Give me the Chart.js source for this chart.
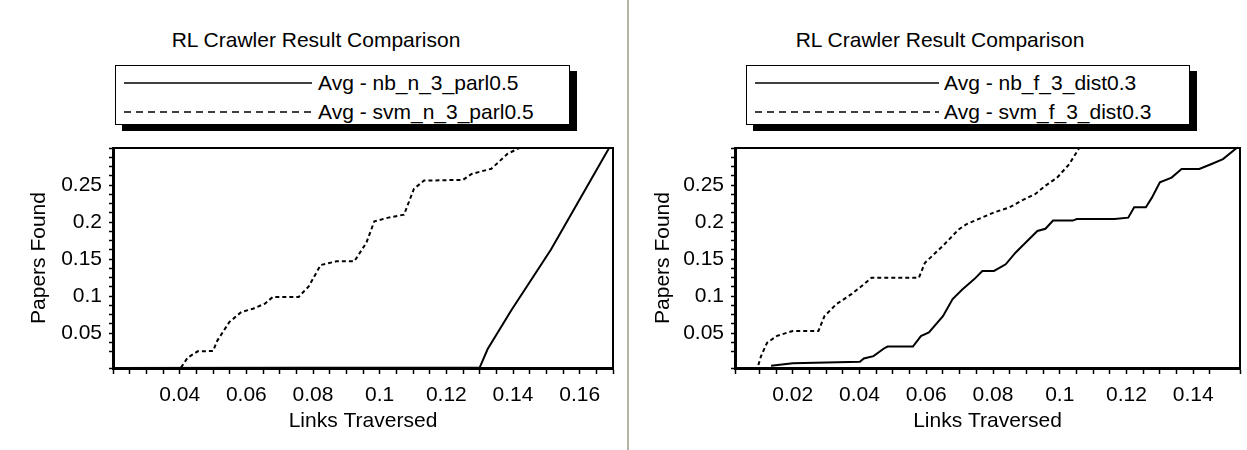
<!DOCTYPE html>
<html>
<head>
<meta charset="utf-8">
<script src="https://cdn.jsdelivr.net/npm/chart.js@4.4.1/dist/chart.umd.min.js"></script>
<style>
  body { margin: 0; background: #fff; font-family: "Liberation Sans", Arial, sans-serif; color: #000; }
  #pagina { position: relative; width: 1247px; height: 450px; overflow: hidden; background: #fff; }
  .titel { position: absolute; top: 28px; font-size: 21px; line-height: 24px; transform: translateX(-50%); white-space: nowrap; }
  .legenda { position: absolute; top: 65px; height: 58px; border: 1.5px solid #000; background: #fff; box-shadow: 7px 6px 0 #000; }
  .rij { position: absolute; height: 24px; line-height: 24px; font-size: 21px; white-space: nowrap; }
  .rij svg { position: absolute; top: 10px; }
  .rij span { position: absolute; top: 0; }
  .wrap { position: absolute; top: 140px; height: 300px; }
  .scheiding { position: absolute; left: 627px; top: 0; width: 2px; height: 450px; background: #b4b4a6; }
</style>
</head>
<body>
<div id="pagina">
  <div class="scheiding"></div>

  <div class="titel" style="left:316px">RL Crawler Result Comparison</div>
  <div class="legenda" style="left:115px;width:453px">
    <div class="rij" style="top:5px;left:0">
      <svg width="190" height="4" style="left:8px"><line x1="0" y1="2" x2="188" y2="2" stroke="#000" stroke-width="1.5"/></svg>
      <span style="left:202px">Avg - nb_n_3_parl0.5</span>
    </div>
    <div class="rij" style="top:34px;left:0">
      <svg width="190" height="4" style="left:8px"><line x1="0" y1="2" x2="188" y2="2" stroke="#000" stroke-width="1.5" stroke-dasharray="7,5"/></svg>
      <span style="left:202px">Avg - svm_n_3_parl0.5</span>
    </div>
  </div>
  <div class="wrap" style="left:0;width:620px"><canvas id="grafiekLinks" width="620" height="300"></canvas></div>

  <div class="titel" style="left:940px">RL Crawler Result Comparison</div>
  <div class="legenda" style="left:746px;width:442px">
    <div class="rij" style="top:5px;left:0">
      <svg width="186" height="4" style="left:8px"><line x1="0" y1="2" x2="184" y2="2" stroke="#000" stroke-width="1.5"/></svg>
      <span style="left:197px">Avg - nb_f_3_dist0.3</span>
    </div>
    <div class="rij" style="top:34px;left:0">
      <svg width="186" height="4" style="left:8px"><line x1="0" y1="2" x2="184" y2="2" stroke="#000" stroke-width="1.5" stroke-dasharray="7,5"/></svg>
      <span style="left:197px">Avg - svm_f_3_dist0.3</span>
    </div>
  </div>
  <div class="wrap" style="left:630px;width:617px"><canvas id="grafiekRechts" width="617" height="300"></canvas></div>
</div>

<script>
// Linker grafiek: nb_n_3_parl0.5 en svm_n_3_parl0.5
const linksNbX = [0.02, 0.13, 0.1324, 0.1395, 0.1514, 0.1687];
const linksNbY = [0.003, 0.0036, 0.0286, 0.081, 0.163, 0.299];

const linksSvmX = [0.0404, 0.0424, 0.0454, 0.050, 0.0513, 0.0549, 0.0585, 0.062, 0.0656, 0.068, 0.0757, 0.0787, 0.0823,
  0.087, 0.0924, 0.096, 0.0984, 0.1026, 0.1073, 0.1103, 0.1133, 0.125, 0.1276, 0.1335, 0.1383, 0.1419];
const linksSvmY = [0.0036, 0.017, 0.0255, 0.026, 0.040, 0.065, 0.0786, 0.083, 0.09, 0.099, 0.099, 0.113, 0.142,
  0.147, 0.147, 0.172, 0.201, 0.206, 0.210, 0.245, 0.256, 0.257, 0.265, 0.272, 0.292, 0.30];

// Rechter grafiek: nb_f_3_dist0.3 en svm_f_3_dist0.3
const rechtsNbX = [0.0135, 0.02, 0.0401, 0.0413, 0.0442, 0.0472, 0.0484, 0.056, 0.0584, 0.0608, 0.065, 0.0679, 0.0708,
  0.0744, 0.0768, 0.0803, 0.0838, 0.0868, 0.0898, 0.0933, 0.0957, 0.098, 0.1039, 0.1051, 0.1164, 0.1205, 0.1223,
  0.1258, 0.1276, 0.13, 0.1335, 0.1365, 0.1418, 0.1453, 0.1489, 0.153];
const rechtsNbY = [0.0059, 0.0095, 0.0113, 0.0158, 0.019, 0.029, 0.032, 0.032, 0.046, 0.051, 0.073, 0.096, 0.109,
  0.123, 0.134, 0.134, 0.143, 0.159, 0.1725, 0.188, 0.191, 0.202, 0.202, 0.204, 0.204, 0.206, 0.22,
  0.22, 0.233, 0.2536, 0.26, 0.2716, 0.2716, 0.278, 0.285, 0.30];

const rechtsSvmX = [0.0097, 0.0105, 0.0123, 0.0153, 0.02, 0.0277, 0.0295, 0.033, 0.0377, 0.0413, 0.0436, 0.0578, 0.0596,
  0.065, 0.0697, 0.072, 0.0756, 0.0803, 0.085, 0.0886, 0.0927, 0.0957, 0.0992, 0.1028, 0.1057];
const rechtsSvmY = [0.007, 0.019, 0.037, 0.0464, 0.053, 0.053, 0.073, 0.089, 0.103, 0.116, 0.125, 0.125, 0.145,
  0.168, 0.19, 0.197, 0.204, 0.213, 0.22, 0.229, 0.238, 0.249, 0.26, 0.278, 0.299];

// As-labels
const linksXLabels = ["0.04", "0.06", "0.08", "0.1", "0.12", "0.14", "0.16"];
const rechtsXLabels = ["0.02", "0.04", "0.06", "0.08", "0.1", "0.12", "0.14"];
const yLabels = ["0.05", "0.1", "0.15", "0.2", "0.25"];

const lettertype = "'Liberation Sans', Arial, sans-serif";
Chart.defaults.font.family = lettertype;
Chart.defaults.font.size = 21;
Chart.defaults.color = "#000";

function punten(xs, ys) {
  return xs.map((x, i) => ({ x, y: ys[i] }));
}

function labelVoor(labels) {
  return (value) => {
    const hit = labels.find((l) => Math.abs(parseFloat(l) - value) < 1e-6);
    return hit || "";
  };
}

// bovenste en rechter rand van het plotvlak
const kaderPlugin = {
  id: "kader",
  afterDraw(chart) {
    const { ctx, chartArea: a } = chart;
    ctx.save();
    ctx.strokeStyle = "#000";
    ctx.lineWidth = 2;
    ctx.beginPath();
    ctx.moveTo(a.left, a.top);
    ctx.lineTo(a.right, a.top);
    ctx.lineTo(a.right, a.bottom);
    ctx.stroke();
    ctx.restore();
  },
};

function maakGrafiek(id, opts) {
  const ctx = document.getElementById(id).getContext("2d");
  return new Chart(ctx, {
    type: "line",
    data: {
      datasets: [
        {
          label: opts.namen[0],
          data: punten(opts.nbX, opts.nbY),
          borderColor: "#000",
          borderWidth: 2,
          pointRadius: 0,
          tension: 0,
          fill: false,
        },
        {
          label: opts.namen[1],
          data: punten(opts.svmX, opts.svmY),
          borderColor: "#000",
          borderWidth: 2,
          borderDash: [4, 3],
          pointRadius: 0,
          tension: 0,
          fill: false,
        },
      ],
    },
    options: {
      responsive: false,
      animation: false,
      layout: { padding: { top: 8, right: 7, bottom: 0, left: 0 } },
      plugins: { legend: { display: false }, title: { display: false }, tooltip: { enabled: false } },
      scales: {
        x: {
          type: "linear",
          min: opts.xMin,
          max: opts.xMax,
          ticks: {
            stepSize: 0.005,
            autoSkip: false,
            maxRotation: 0,
            padding: 9,
            callback: labelVoor(opts.xLabels),
          },
          grid: { drawOnChartArea: false, tickLength: 6, tickColor: "#000", tickWidth: 1.5 },
          border: { display: true, color: "#000", width: 3 },
          title: { display: true, text: "Links Traversed", padding: { top: 0, bottom: 6 } },
          afterFit(scale) {
            scale.height = 72;
            scale.paddingLeft = 0;
            scale.paddingRight = 0;
          },
        },
        y: {
          min: 0.003,
          max: 0.3,
          ticks: {
            stepSize: 0.0125,
            autoSkip: false,
            padding: 7,
            callback: labelVoor(yLabels),
          },
          grid: { drawOnChartArea: false, tickLength: 4, tickColor: "#000", tickWidth: 1.5 },
          border: { display: true, color: "#000", width: 3 },
          title: { display: true, text: "Papers Found", padding: { top: opts.yTitelPad, bottom: 0 } },
          afterFit(scale) {
            scale.width = opts.yBreedte;
            scale.paddingTop = 0;
            scale.paddingBottom = 0;
          },
        },
      },
    },
    plugins: [kaderPlugin],
  });
}

maakGrafiek("grafiekLinks", {
  namen: ["Avg - nb_n_3_parl0.5", "Avg - svm_n_3_parl0.5"],
  nbX: linksNbX, nbY: linksNbY, svmX: linksSvmX, svmY: linksSvmY,
  xMin: 0.02, xMax: 0.17, xLabels: linksXLabels,
  yBreedte: 113, yTitelPad: 27,
});

maakGrafiek("grafiekRechts", {
  namen: ["Avg - nb_f_3_dist0.3", "Avg - svm_f_3_dist0.3"],
  nbX: rechtsNbX, nbY: rechtsNbY, svmX: rechtsSvmX, svmY: rechtsSvmY,
  xMin: 0.0027, xMax: 0.154, xLabels: rechtsXLabels,
  yBreedte: 105, yTitelPad: 21,
});
</script>
</body>
</html>
